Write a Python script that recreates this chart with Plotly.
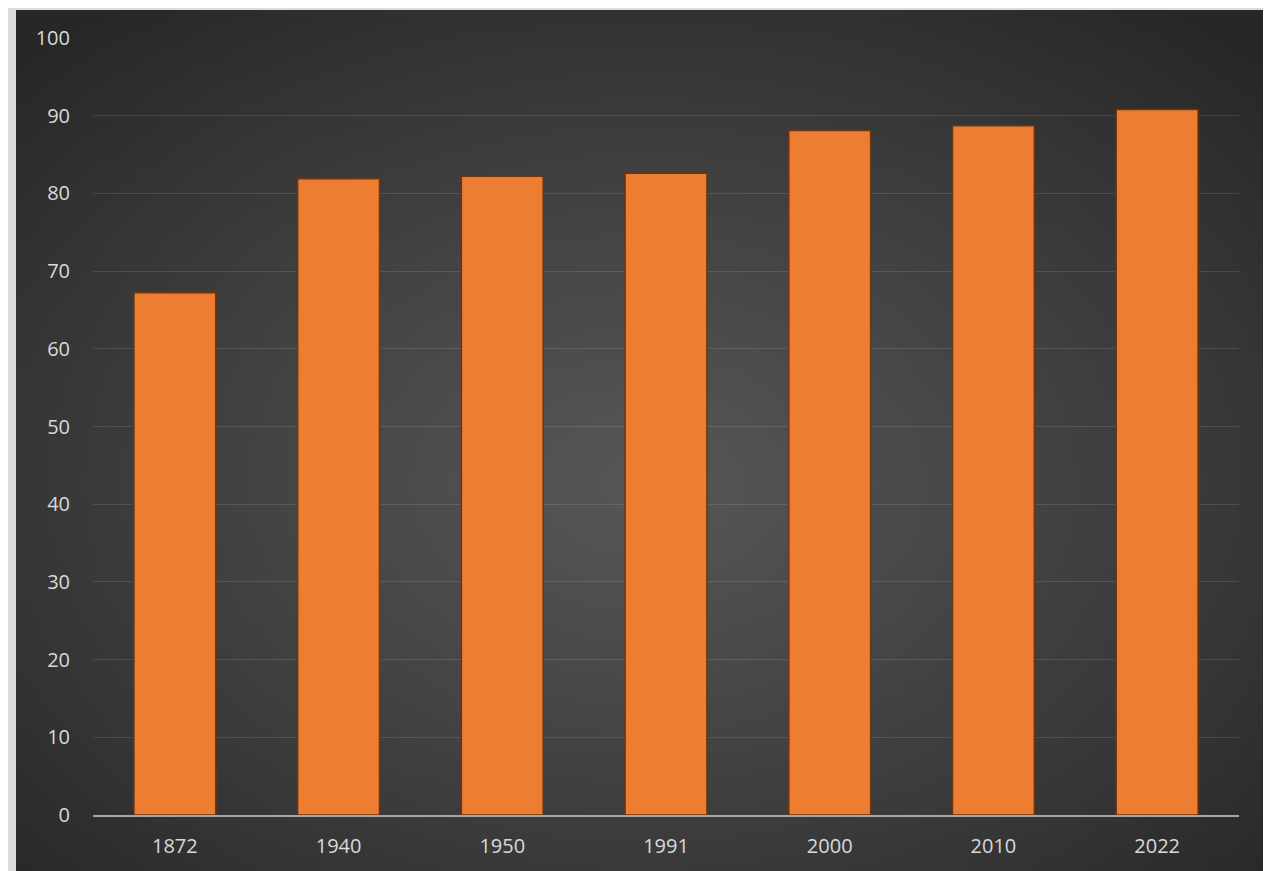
import base64
import struct
import zlib

import numpy as np
import plotly.graph_objects as go

years = ["1872", "1940", "1950", "1991", "2000", "2010", "2022"]
values = [67.2, 81.9, 82.2, 82.6, 88.1, 88.7, 90.8]
y_ticks = [0, 10, 20, 30, 40, 50, 60, 70, 80, 90, 100]


def gradient_png(w=160, h=120, inner=0x57, outer=0x27):
    # radial dark gradient for the chart panel, encoded as a small PNG
    xs = (np.arange(w) + 0.5) / w - 0.5
    ys = (np.arange(h) + 0.5) / h - 0.55
    gx, gy = np.meshgrid(xs, ys)
    r = np.sqrt(gx ** 2 + gy ** 2) / np.sqrt(0.5)
    r = np.clip(r, 0, 1)
    v = (inner + (outer - inner) * r ** 1.1).astype(np.uint8)
    rows = b"".join(b"\x00" + bytes(np.repeat(row, 3)) for row in v)

    def chunk(tag, data):
        c = struct.pack(">I", len(data)) + tag + data
        return c + struct.pack(">I", zlib.crc32(tag + data) & 0xFFFFFFFF)

    png = b"\x89PNG\r\n\x1a\n"
    png += chunk(b"IHDR", struct.pack(">IIBBBBB", w, h, 8, 2, 0, 0, 0))
    png += chunk(b"IDAT", zlib.compress(rows, 9))
    png += chunk(b"IEND", b"")
    return "data:image/png;base64," + base64.b64encode(png).decode()


fig = go.Figure()
fig.add_trace(go.Bar(
    x=years, y=values,
    marker=dict(color="#ED7D31", line=dict(color="#6b3512", width=1.5)),
    width=0.5,
))

# the page body adds 8px, so the figure is 1263x863 and starts at (8, 8)
# plot area on screen: left 93, right 1239, top 38, bottom 815
pw, ph = 1146, 777
fig.add_layout_image(
    source=gradient_png(),
    xref="paper", yref="paper",
    x=(16 - 93) / pw, y=(815 - 10) / ph,
    sizex=(1269 - 16) / pw, sizey=(871 - 10) / ph,
    xanchor="left", yanchor="top",
    sizing="stretch", layer="below",
)

fig.update_layout(
    width=1263, height=863,
    margin=dict(l=85, r=32, t=30, b=56),
    paper_bgcolor="#dcdcdc",
    plot_bgcolor="rgba(0,0,0,0)",
    showlegend=False,
    font=dict(family="Open Sans", size=20, color="#d9d9d9"),
    xaxis=dict(
        showgrid=False, showline=True, linecolor="#a6a6a6", linewidth=2,
        ticks="", ticklabelstandoff=12,
    ),
    yaxis=dict(
        range=[0, 100], tickvals=y_ticks, showgrid=True,
        gridcolor="rgba(255,255,255,0.11)", gridwidth=1,
        zeroline=False, showline=False, ticks="", ticklabelstandoff=22,
    ),
)

fig.write_html("out.html")
